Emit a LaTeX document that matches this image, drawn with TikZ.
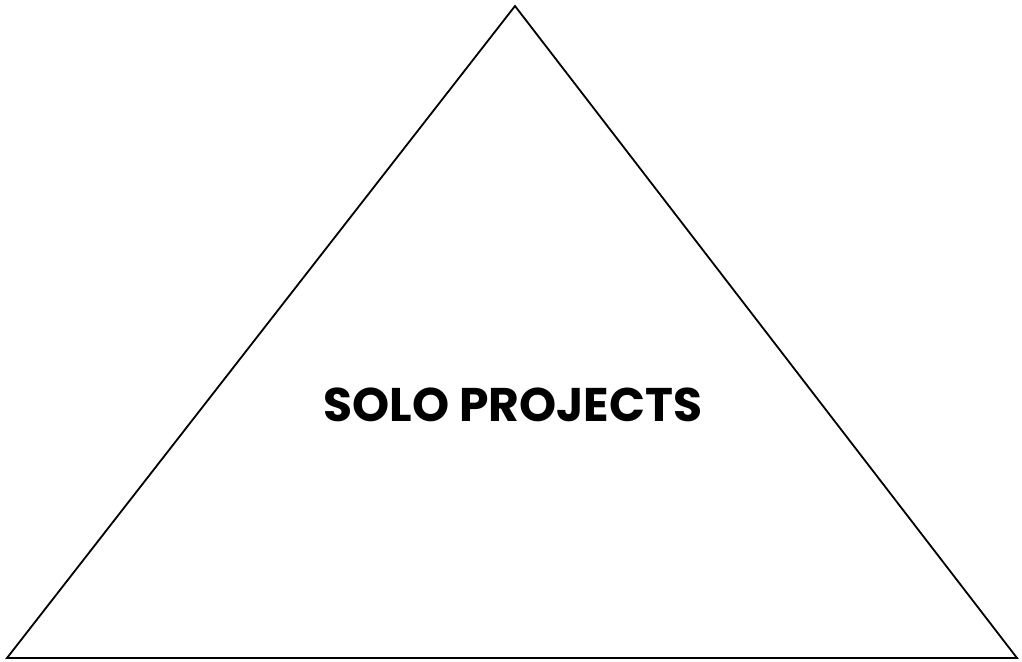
\documentclass[tikz,border=0pt]{standalone}
\usepackage{fontspec}
\setmainfont{Poppins}[BoldFont={* Bold}]
\tikzset{edge/.style={draw=black,line width=1.8pt,line join=miter},
lbl/.style={font=\bfseries\fontsize{47.2}{50}\selectfont,text=black,inner sep=0pt,anchor=base}}
\begin{document}
\begin{tikzpicture}[x=1pt,y=-1pt]
\useasboundingbox (0,0) rectangle (1022,661);
\coordinate (top) at (515,6);
\coordinate (bl) at (7,658);
\coordinate (br) at (1017,658);
\draw[edge] (top) -- (bl) -- (br) -- cycle;
\node[lbl] (t) at (513,421) {SOLO PROJECTS};
\end{tikzpicture}
\end{document}
